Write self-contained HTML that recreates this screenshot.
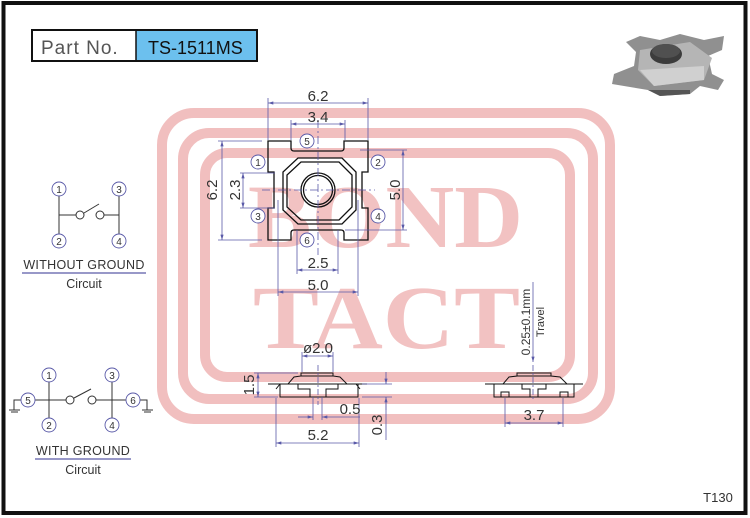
<!DOCTYPE html>
<html><head><meta charset="utf-8"><style>
html,body{margin:0;padding:0;background:#fff}
svg{display:block}
text{font-family:"Liberation Sans",sans-serif}
</style></head><body>
<svg width="750" height="518" viewBox="0 0 750 518" xmlns="http://www.w3.org/2000/svg">
<defs>
<marker id="a" viewBox="0 0 10 6" refX="10" refY="3" markerWidth="7" markerHeight="4" orient="auto-start-reverse"><path d="M0,0L10,3L0,6z" fill="#5a5aa8"/></marker>
</defs>
<rect x="0" y="0" width="750" height="518" fill="#fff"/>
<rect x="3.5" y="3" width="742" height="510" fill="none" stroke="#111" stroke-width="4"/>

<!-- watermark -->
<g fill="none" stroke="#f1bfbf" stroke-width="10">
<rect x="162" y="113" width="448" height="306" rx="32"/>
<rect x="183" y="133" width="410" height="266" rx="26"/>
<rect x="205" y="153" width="365" height="224" rx="22"/>
</g>
<g fill="#f2c2c2" font-weight="bold" font-size="90">
<text x="248" y="247" textLength="275" lengthAdjust="spacingAndGlyphs" style="font-family:'Liberation Serif',serif">BOND</text>
<text x="253" y="348" textLength="267" lengthAdjust="spacingAndGlyphs" style="font-family:'Liberation Serif',serif">TACT</text>
</g>

<!-- part no -->
<rect x="32" y="30" width="225" height="31" fill="#fff" stroke="#111" stroke-width="2"/>
<rect x="136" y="31" width="120" height="29" fill="#6cc0ee"/>
<line x1="136" y1="30" x2="136" y2="61" stroke="#111" stroke-width="1.5"/>
<text x="41" y="54" font-size="19" fill="#555" letter-spacing="1">Part  No.</text>
<text x="148" y="54" font-size="18" fill="#111">TS-1511MS</text>

<!-- 3D icon -->
<g stroke="none">
<polygon points="626,42 640,36 660,40 680,34 704,40 724,36 722,50 708,56 712,74 724,80 718,90 700,86 690,94 660,96 648,90 612,84 614,74 634,66 636,52" fill="#909090"/>
<polygon points="640,50 690,42 712,58 704,80 654,86 638,70" fill="#b5b5b5"/>
<polygon points="640,70 704,66 704,80 654,86" fill="#d0d0d0"/>
<polygon points="648,90 690,90 690,94 660,96" fill="#555"/>
<ellipse cx="666" cy="54" rx="16" ry="10" fill="#3c3c3c"/>
<ellipse cx="666" cy="51" rx="14" ry="7" fill="#505050"/>
</g>

<!-- top view -->
<g fill="none" stroke="#111" stroke-width="1.3">
<path d="M268,141 H291 V148 Q291,151 294,151 H341 Q344,151 344,148 V141 H368 V172 H362 V208 H368 V240 H344 V233 Q344,230 341,230 H294 Q291,230 291,233 V240 H268 V208 H274 V172 H268 Z"/>
<polygon points="298,158 342,158 356,172 356,210 342,224 298,224 283,210 283,172"/>
<polygon points="301,162 339,162 352,175 352,207 339,220 301,220 287,207 287,175"/>
<circle cx="318" cy="190" r="17"/>
<circle cx="318" cy="190" r="14.5"/>
</g>
<g stroke="#5a5aa8" stroke-width="0.8" fill="none">
<line x1="318" y1="120" x2="318" y2="255" stroke-dasharray="8,3,2,3"/>
<line x1="262" y1="190" x2="375" y2="190" stroke-dasharray="8,3,2,3"/>
<line x1="268" y1="98" x2="268" y2="140"/><line x1="368" y1="98" x2="368" y2="140"/>
<line x1="268" y1="103" x2="368" y2="103" marker-start="url(#a)" marker-end="url(#a)"/>
<line x1="291" y1="120" x2="291" y2="140"/><line x1="345" y1="120" x2="345" y2="140"/>
<line x1="291" y1="124" x2="345" y2="124" marker-start="url(#a)" marker-end="url(#a)"/>
<line x1="218" y1="141" x2="262" y2="141"/><line x1="218" y1="240" x2="262" y2="240"/>
<line x1="222" y1="141" x2="222" y2="240" marker-start="url(#a)" marker-end="url(#a)"/>
<line x1="240" y1="173" x2="275" y2="173"/><line x1="240" y1="208" x2="275" y2="208"/>
<line x1="243" y1="173" x2="243" y2="208" marker-start="url(#a)" marker-end="url(#a)"/>
<line x1="360" y1="150" x2="407" y2="150"/><line x1="345" y1="230" x2="407" y2="230"/>
<line x1="403" y1="150" x2="403" y2="230" marker-start="url(#a)" marker-end="url(#a)"/>
<line x1="297" y1="230" x2="297" y2="274"/><line x1="338" y1="230" x2="338" y2="274"/>
<line x1="297" y1="270" x2="338" y2="270" marker-start="url(#a)" marker-end="url(#a)"/>
<line x1="278" y1="200" x2="278" y2="296"/><line x1="358" y1="200" x2="358" y2="296"/>
<line x1="278" y1="292" x2="358" y2="292" marker-start="url(#a)" marker-end="url(#a)"/>
</g>
<g fill="#333" font-size="15" text-anchor="middle">
<text x="318" y="101">6.2</text>
<text x="318" y="122">3.4</text>
<text x="318" y="268">2.5</text>
<text x="318" y="290">5.0</text>
<text transform="translate(217,190) rotate(-90)">6.2</text>
<text transform="translate(240,190) rotate(-90)">2.3</text>
<text transform="translate(400,190) rotate(-90)">5.0</text>
</g>
<g fill="#fff" stroke="#5a5aa8" stroke-width="0.9">
<circle cx="307" cy="141" r="7"/><circle cx="258" cy="162" r="7"/><circle cx="378" cy="162" r="7"/>
<circle cx="258" cy="216" r="7"/><circle cx="378" cy="216" r="7"/><circle cx="307" cy="240" r="7"/>
</g>
<g fill="#333" font-size="10" text-anchor="middle">
<text x="307" y="145">5</text><text x="258" y="166">1</text><text x="378" y="166">2</text>
<text x="258" y="220">3</text><text x="378" y="220">4</text><text x="307" y="244">6</text>
</g>

<!-- side view left -->
<g fill="none" stroke="#111" stroke-width="1">
<polyline points="288,384 294,377 301,376 301,373 333,373 333,376 340,377 347,384"/>
<line x1="268" y1="384" x2="367" y2="384"/>
<polyline points="280,384 280,397 358,397 358,384"/>
<polyline points="298,384 298,389 310,389 310,397"/>
<polyline points="338,384 338,389 326,389 326,397"/>
<line x1="301" y1="376" x2="333" y2="376"/>
<path d="M276,389 L280,384 M360,389 L356,384"/>
</g>
<g stroke="#5a5aa8" stroke-width="0.8" fill="none">
<line x1="318" y1="365" x2="318" y2="405" stroke-dasharray="6,2,2,2"/>
<line x1="302" y1="352" x2="302" y2="372"/><line x1="333" y1="352" x2="333" y2="372"/>
<line x1="302" y1="356" x2="333" y2="356" marker-start="url(#a)" marker-end="url(#a)"/>
<line x1="254" y1="373" x2="298" y2="373"/><line x1="254" y1="397" x2="278" y2="397"/>
<line x1="258" y1="373" x2="258" y2="397" marker-start="url(#a)" marker-end="url(#a)"/>
<line x1="362" y1="384" x2="392" y2="384"/><line x1="362" y1="397" x2="392" y2="397"/>
<line x1="386" y1="372" x2="386" y2="384" marker-end="url(#a)"/>
<line x1="386" y1="410" x2="386" y2="397" marker-end="url(#a)"/>
<line x1="386" y1="397" x2="386" y2="440"/>
<line x1="313" y1="397" x2="313" y2="420"/><line x1="322" y1="397" x2="322" y2="420"/>
<line x1="298" y1="417" x2="313" y2="417" marker-end="url(#a)"/>
<line x1="360" y1="417" x2="322" y2="417" marker-end="url(#a)"/>
<line x1="276" y1="398" x2="276" y2="447"/><line x1="359" y1="398" x2="359" y2="447"/>
<line x1="276" y1="443" x2="359" y2="443" marker-start="url(#a)" marker-end="url(#a)"/>
</g>
<g fill="#333" font-size="15" text-anchor="middle">
<text x="318" y="353">ø2.0</text>
<text x="350" y="414">0.5</text>
<text x="318" y="440">5.2</text>
<text transform="translate(254,385) rotate(-90)">1.5</text>
<text transform="translate(382,425) rotate(-90)">0.3</text>
</g>

<!-- side view right -->
<g fill="none" stroke="#111" stroke-width="1">
<polyline points="503,384 509,377 517,376 517,373 551,373 551,376 560,377 567,384"/>
<line x1="485" y1="384" x2="583" y2="384"/>
<polyline points="494,384 494,397 574,397 574,384"/>
<polyline points="522,384 522,389 530,389 530,397"/>
<polyline points="546,384 546,389 538,389 538,397"/>
<rect x="501" y="392" width="8" height="5"/><rect x="560" y="392" width="8" height="5"/>
<line x1="517" y1="376" x2="551" y2="376"/>
</g>
<g stroke="#5a5aa8" stroke-width="0.8" fill="none">
<line x1="533" y1="365" x2="533" y2="400" stroke-dasharray="6,2,2,2"/>
<line x1="533" y1="282" x2="533" y2="362" marker-end="url(#a)"/>
<line x1="505" y1="398" x2="505" y2="427"/><line x1="563" y1="398" x2="563" y2="427"/>
<line x1="505" y1="423" x2="563" y2="423" marker-start="url(#a)" marker-end="url(#a)"/>
</g>
<g fill="#333" text-anchor="middle">
<text x="534" y="420" font-size="15">3.7</text>
<text transform="translate(530,322) rotate(-90)" font-size="12">0.25±0.1mm</text>
<text transform="translate(544,322) rotate(-90)" font-size="11">Travel</text>
</g>

<!-- circuits -->
<g stroke="#333" stroke-width="1" fill="none">
<line x1="59" y1="196" x2="59" y2="234"/><line x1="119" y1="196" x2="119" y2="234"/>
<line x1="59" y1="215" x2="76" y2="215"/><line x1="104" y1="215" x2="119" y2="215"/>
<circle cx="80" cy="215" r="4"/><circle cx="100" cy="215" r="4"/>
<line x1="84" y1="213" x2="99" y2="204"/>
<line x1="49" y1="382" x2="49" y2="418"/><line x1="112" y1="382" x2="112" y2="418"/>
<line x1="35" y1="400" x2="66" y2="400"/><line x1="96" y1="400" x2="126" y2="400"/>
<circle cx="70" cy="400" r="4"/><circle cx="92" cy="400" r="4"/>
<line x1="74" y1="398" x2="91" y2="389"/>
<polyline points="21,400 14,400 14,410"/><polyline points="140,400 147,400 147,410"/>
<line x1="9" y1="410" x2="20" y2="410"/><line x1="11" y1="412" x2="18" y2="412"/>
<line x1="142" y1="410" x2="153" y2="410"/><line x1="144" y1="412" x2="151" y2="412"/>
</g>
<g fill="#fff" stroke="#5a5aa8" stroke-width="0.9">
<circle cx="59" cy="189" r="7"/><circle cx="119" cy="189" r="7"/><circle cx="59" cy="241" r="7"/><circle cx="119" cy="241" r="7"/>
<circle cx="49" cy="375" r="7"/><circle cx="112" cy="375" r="7"/><circle cx="49" cy="425" r="7"/><circle cx="112" cy="425" r="7"/>
<circle cx="28" cy="400" r="7"/><circle cx="133" cy="400" r="7"/>
</g>
<g fill="#333" font-size="10" text-anchor="middle">
<text x="59" y="193">1</text><text x="119" y="193">3</text><text x="59" y="245">2</text><text x="119" y="245">4</text>
<text x="49" y="379">1</text><text x="112" y="379">3</text><text x="49" y="429">2</text><text x="112" y="429">4</text>
<text x="28" y="404">5</text><text x="133" y="404">6</text>
</g>
<g fill="#333" font-size="12.5" text-anchor="middle">
<text x="84" y="269" letter-spacing="0.3">WITHOUT  GROUND</text>
<text x="84" y="288">Circuit</text>
<text x="83" y="455" letter-spacing="0.3">WITH  GROUND</text>
<text x="83" y="474">Circuit</text>
<text x="718" y="502" font-size="13">T130</text>
</g>
<line x1="22" y1="273" x2="146" y2="273" stroke="#5a5aa8" stroke-width="1.2"/>
<line x1="35" y1="459" x2="131" y2="459" stroke="#5a5aa8" stroke-width="1.2"/>
</svg>
</body></html>
